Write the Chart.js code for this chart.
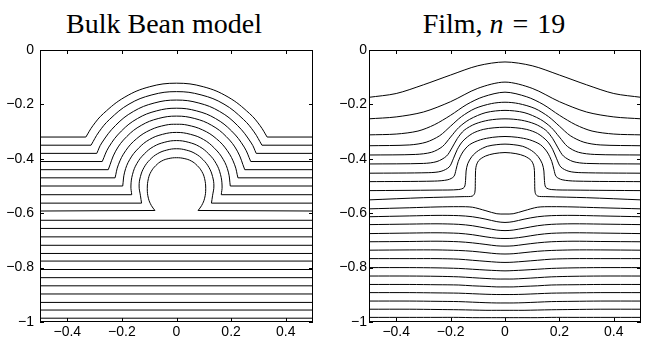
<!DOCTYPE html>
<html>
<head>
<meta charset="utf-8">
<script src="https://cdn.jsdelivr.net/npm/chart.js@4.4.0/dist/chart.umd.min.js"></script>
<style>
body{margin:0;background:#fff;width:651px;height:338px;overflow:hidden;position:relative}
.ttl{position:absolute;top:10px;width:328px;text-align:center;font-family:"Liberation Serif",serif;font-size:28px;line-height:28px;color:#000;white-space:nowrap}
canvas{position:absolute;top:0}
</style>
</head>
<body>
<div class="ttl" style="left:0">Bulk Bean model</div>
<div class="ttl" style="left:330px">Film, <i>n</i>&nbsp;<span style="margin:0 2px">=</span>&nbsp;19</div>
<canvas id="bulk" width="325" height="338" style="left:0"></canvas>
<canvas id="film" width="326" height="338" style="left:325px"></canvas>
<script>
// ticks
const xTicks = [-0.4, -0.2, 0, 0.2, 0.4];
const xTickLabels = ["\u22120.4", "\u22120.2", "0", "0.2", "0.4"];
const yTicks = [0, -0.2, -0.4, -0.6, -0.8, -1];
const yTickLabels = ["0", "\u22120.2", "\u22120.4", "\u22120.6", "\u22120.8", "\u22121"];

// bulk Bean model: straight lines under the hole
const bulkLevels = [-0.626, -0.656, -0.687, -0.718, -0.748, -0.776, -0.807, -0.837, -0.867, -0.897, -0.928, -0.956, -0.986];

// bulk Bean model: lines going round the hole (x, y); first and last segment are flat
const bulkArcs = [
  [[-0.5,-0.32],[-0.332,-0.32],[-0.306,-0.278],[-0.267,-0.233],[-0.189,-0.173],[-0.098,-0.135],[0,-0.122],[0.098,-0.135],[0.189,-0.173],[0.267,-0.233],[0.306,-0.278],[0.332,-0.32],[0.5,-0.32]],
  [[-0.5,-0.35],[-0.313,-0.35],[-0.284,-0.301],[-0.245,-0.255],[-0.174,-0.199],[-0.09,-0.165],[0,-0.153],[0.09,-0.165],[0.174,-0.199],[0.245,-0.255],[0.284,-0.301],[0.313,-0.35],[0.5,-0.35]],
  [[-0.5,-0.38],[-0.292,-0.38],[-0.274,-0.342],[-0.223,-0.277],[-0.158,-0.226],[-0.082,-0.195],[0,-0.184],[0.082,-0.195],[0.158,-0.226],[0.223,-0.277],[0.274,-0.342],[0.292,-0.38],[0.5,-0.38]],
  [[-0.5,-0.41],[-0.272,-0.41],[-0.248,-0.357],[-0.202,-0.298],[-0.143,-0.252],[-0.074,-0.224],[0,-0.214],[0.074,-0.224],[0.143,-0.252],[0.202,-0.298],[0.248,-0.357],[0.272,-0.41],[0.5,-0.41]],
  [[-0.5,-0.44],[-0.25,-0.44],[-0.223,-0.372],[-0.182,-0.318],[-0.129,-0.277],[-0.067,-0.252],[0,-0.243],[0.067,-0.252],[0.129,-0.277],[0.182,-0.318],[0.223,-0.372],[0.25,-0.44],[0.5,-0.44]],
  [[-0.5,-0.47],[-0.225,-0.47],[-0.213,-0.422],[-0.186,-0.37],[-0.146,-0.326],[-0.096,-0.294],[-0.039,-0.276],[0,-0.273],[0.039,-0.276],[0.096,-0.294],[0.146,-0.326],[0.186,-0.37],[0.213,-0.422],[0.225,-0.47],[0.5,-0.47]],
  [[-0.5,-0.5],[-0.197,-0.5],[-0.19,-0.449],[-0.171,-0.402],[-0.139,-0.361],[-0.099,-0.329],[-0.051,-0.31],[0,-0.303],[0.051,-0.31],[0.099,-0.329],[0.139,-0.361],[0.171,-0.402],[0.19,-0.449],[0.197,-0.5],[0.5,-0.5]],
  [[-0.5,-0.532],[-0.164,-0.532],[-0.167,-0.5],[-0.161,-0.457],[-0.145,-0.417],[-0.118,-0.382],[-0.084,-0.355],[-0.043,-0.339],[0,-0.333],[0.043,-0.339],[0.084,-0.355],[0.118,-0.382],[0.145,-0.417],[0.161,-0.457],[0.167,-0.5],[0.164,-0.532],[0.5,-0.532]],
  [[-0.5,-0.563],[-0.128,-0.563],[-0.132,-0.536],[-0.137,-0.5],[-0.132,-0.465],[-0.119,-0.432],[-0.097,-0.403],[-0.069,-0.381],[-0.036,-0.368],[0,-0.363],[0.036,-0.368],[0.069,-0.381],[0.097,-0.403],[0.119,-0.432],[0.132,-0.465],[0.137,-0.5],[0.132,-0.536],[0.128,-0.563],[0.5,-0.563]],
  [[-0.5,-0.592],[-0.079,-0.59],[-0.092,-0.572],[-0.103,-0.545],[-0.107,-0.51],[-0.103,-0.473],[-0.093,-0.447],[-0.076,-0.425],[-0.054,-0.408],[-0.028,-0.399],[0,-0.396],[0.028,-0.399],[0.054,-0.408],[0.076,-0.425],[0.093,-0.447],[0.103,-0.473],[0.107,-0.51],[0.103,-0.545],[0.092,-0.572],[0.079,-0.59],[0.5,-0.592]]
];

// film n = 19: lines passing over the hole (x, y)
const filmOver = [
  [[-0.5,-0.174],[-0.4,-0.16],[-0.3,-0.128],[-0.2,-0.092],[-0.1,-0.058],[0,-0.044],[0.1,-0.058],[0.2,-0.092],[0.3,-0.128],[0.4,-0.16],[0.5,-0.174]],
  [[-0.5,-0.253],[-0.4,-0.246],[-0.3,-0.228],[-0.2,-0.19],[-0.1,-0.141],[0,-0.118],[0.1,-0.141],[0.2,-0.19],[0.3,-0.228],[0.4,-0.246],[0.5,-0.253]],
  [[-0.5,-0.312],[-0.4,-0.309],[-0.32,-0.298],[-0.26,-0.275],[-0.2,-0.24],[-0.14,-0.2],[-0.08,-0.172],[0,-0.155],[0.08,-0.172],[0.14,-0.2],[0.2,-0.24],[0.26,-0.275],[0.32,-0.298],[0.4,-0.309],[0.5,-0.312]],
  [[-0.5,-0.352],[-0.35,-0.349],[-0.29,-0.339],[-0.24,-0.315],[-0.2,-0.28],[-0.16,-0.245],[-0.11,-0.215],[-0.05,-0.197],[0,-0.192],[0.05,-0.197],[0.11,-0.215],[0.16,-0.245],[0.2,-0.28],[0.24,-0.315],[0.29,-0.339],[0.35,-0.349],[0.5,-0.352]],
  [[-0.5,-0.386],[-0.33,-0.384],[-0.27,-0.376],[-0.23,-0.355],[-0.2,-0.32],[-0.17,-0.285],[-0.13,-0.255],[-0.07,-0.23],[0,-0.222],[0.07,-0.23],[0.13,-0.255],[0.17,-0.285],[0.2,-0.32],[0.23,-0.355],[0.27,-0.376],[0.33,-0.384],[0.5,-0.386]],
  [[-0.5,-0.419],[-0.3,-0.417],[-0.25,-0.41],[-0.215,-0.39],[-0.195,-0.36],[-0.175,-0.325],[-0.15,-0.295],[-0.11,-0.272],[-0.06,-0.258],[0,-0.253],[0.06,-0.258],[0.11,-0.272],[0.15,-0.295],[0.175,-0.325],[0.195,-0.36],[0.215,-0.39],[0.25,-0.41],[0.3,-0.417],[0.5,-0.419]],
  [[-0.5,-0.453],[-0.28,-0.451],[-0.235,-0.446],[-0.205,-0.43],[-0.19,-0.4],[-0.175,-0.365],[-0.155,-0.335],[-0.12,-0.307],[-0.08,-0.292],[-0.04,-0.286],[0,-0.284],[0.04,-0.286],[0.08,-0.292],[0.12,-0.307],[0.155,-0.335],[0.175,-0.365],[0.19,-0.4],[0.205,-0.43],[0.235,-0.446],[0.28,-0.451],[0.5,-0.453]],
  [[-0.5,-0.484],[-0.26,-0.482],[-0.21,-0.477],[-0.188,-0.465],[-0.18,-0.44],[-0.172,-0.41],[-0.155,-0.375],[-0.13,-0.348],[-0.09,-0.33],[-0.045,-0.321],[0,-0.318],[0.045,-0.321],[0.09,-0.33],[0.13,-0.348],[0.155,-0.375],[0.172,-0.41],[0.18,-0.44],[0.188,-0.465],[0.21,-0.477],[0.26,-0.482],[0.5,-0.484]],
  [[-0.5,-0.517],[-0.25,-0.515],[-0.17,-0.513],[-0.15,-0.505],[-0.145,-0.48],[-0.143,-0.445],[-0.137,-0.418],[-0.122,-0.392],[-0.098,-0.37],[-0.065,-0.354],[-0.03,-0.348],[0,-0.346],[0.03,-0.348],[0.065,-0.354],[0.098,-0.37],[0.122,-0.392],[0.137,-0.418],[0.143,-0.445],[0.145,-0.48],[0.15,-0.505],[0.17,-0.513],[0.25,-0.515],[0.5,-0.517]],
  [[-0.5,-0.551],[-0.3,-0.543],[-0.15,-0.539],[-0.12,-0.537],[-0.111,-0.525],[-0.109,-0.48],[-0.107,-0.432],[-0.097,-0.407],[-0.072,-0.39],[-0.04,-0.381],[0,-0.377],[0.04,-0.381],[0.072,-0.39],[0.097,-0.407],[0.107,-0.432],[0.109,-0.48],[0.111,-0.525],[0.12,-0.537],[0.15,-0.539],[0.3,-0.543],[0.5,-0.551]]
];

// film n = 19: lines dipping under the hole
const filmUnderX = [-0.5, -0.35, -0.25, -0.17, -0.12, -0.07, -0.03, 0, 0.03, 0.07, 0.12, 0.17, 0.25, 0.35, 0.5];
const filmUnder = [
  [-0.584,-0.58,-0.577,-0.576,-0.578,-0.591,-0.602,-0.603,-0.602,-0.591,-0.578,-0.576,-0.577,-0.58,-0.584],
  [-0.613,-0.61,-0.608,-0.609,-0.613,-0.622,-0.631,-0.634,-0.631,-0.622,-0.613,-0.609,-0.608,-0.61,-0.613],
  [-0.642,-0.64,-0.639,-0.641,-0.646,-0.655,-0.662,-0.664,-0.662,-0.655,-0.646,-0.641,-0.639,-0.64,-0.642],
  [-0.675,-0.673,-0.672,-0.674,-0.679,-0.687,-0.692,-0.693,-0.692,-0.687,-0.679,-0.674,-0.672,-0.673,-0.675],
  [-0.705,-0.704,-0.703,-0.705,-0.709,-0.715,-0.72,-0.721,-0.72,-0.715,-0.709,-0.705,-0.703,-0.704,-0.705],
  [-0.736,-0.735,-0.735,-0.737,-0.74,-0.745,-0.749,-0.75,-0.749,-0.745,-0.74,-0.737,-0.735,-0.735,-0.736],
  [-0.767,-0.767,-0.767,-0.769,-0.773,-0.777,-0.78,-0.781,-0.78,-0.777,-0.773,-0.769,-0.767,-0.767,-0.767],
  [-0.8,-0.8,-0.801,-0.803,-0.806,-0.809,-0.811,-0.812,-0.811,-0.809,-0.806,-0.803,-0.801,-0.8,-0.8],
  [-0.831,-0.831,-0.832,-0.834,-0.837,-0.84,-0.842,-0.842,-0.842,-0.84,-0.837,-0.834,-0.832,-0.831,-0.831],
  [-0.862,-0.862,-0.863,-0.864,-0.867,-0.869,-0.871,-0.871,-0.871,-0.869,-0.867,-0.864,-0.863,-0.862,-0.862],
  [-0.892,-0.892,-0.893,-0.894,-0.896,-0.898,-0.899,-0.899,-0.899,-0.898,-0.896,-0.894,-0.893,-0.892,-0.892],
  [-0.923,-0.923,-0.924,-0.925,-0.927,-0.929,-0.93,-0.93,-0.93,-0.929,-0.927,-0.925,-0.924,-0.923,-0.923],
  [-0.953,-0.953,-0.954,-0.955,-0.956,-0.957,-0.957,-0.957,-0.957,-0.957,-0.956,-0.955,-0.954,-0.953,-0.953],
  [-0.983,-0.983,-0.983,-0.983,-0.984,-0.984,-0.984,-0.984,-0.984,-0.984,-0.984,-0.983,-0.983,-0.983,-0.983]
];

Chart.defaults.font.family = "'Liberation Sans', Arial, sans-serif";
Chart.defaults.font.size = 14;
Chart.defaults.color = "#000";

// box round the plot with small inward ticks, like the original
const marco = {
  id: "marco",
  afterDatasetsDraw(chart) {
    const { ctx, chartArea: a, scales } = chart;
    ctx.save();
    ctx.strokeStyle = "#000";
    ctx.lineWidth = 1;
    ctx.strokeRect(a.left + 0.5, a.top + 0.5, a.right - a.left - 1, a.bottom - a.top - 1);
    ctx.beginPath();
    xTicks.forEach(v => {
      const px = Math.round(scales.x.getPixelForValue(v)) + 0.5;
      ctx.moveTo(px, a.top); ctx.lineTo(px, a.top + 4);
      ctx.moveTo(px, a.bottom); ctx.lineTo(px, a.bottom - 4);
    });
    yTicks.forEach(v => {
      const py = Math.round(scales.y.getPixelForValue(v)) + 0.5;
      ctx.moveTo(a.left, py); ctx.lineTo(a.left + 4, py);
      ctx.moveTo(a.right, py); ctx.lineTo(a.right - 4, py);
    });
    ctx.stroke();
    ctx.restore();
  }
};

function linea(puntos, tension) {
  return {
    data: puntos.map(p => ({ x: p[0], y: p[1] })),
    showLine: true,
    borderColor: "#000",
    borderWidth: 1,
    pointRadius: 0,
    tension: tension
  };
}

function opciones(anchoY, padY, derecha) {
  return {
    responsive: false,
    animation: false,
    layout: { padding: { left: 0, right: derecha, top: 50, bottom: 0 } },
    plugins: { legend: { display: false }, tooltip: { enabled: false } },
    scales: {
      x: {
        type: "linear", min: -0.5, max: 0.5,
        grid: { display: false, drawTicks: false },
        border: { display: false },
        afterBuildTicks: s => { s.ticks = xTicks.map(v => ({ value: v })); },
        afterFit: s => { s.height = 16; },
        ticks: { padding: 2, maxRotation: 0, autoSkip: false, callback: (v, i) => xTickLabels[i] }
      },
      y: {
        type: "linear", min: -1, max: 0,
        grid: { display: false, drawTicks: false },
        border: { display: false },
        afterBuildTicks: s => { s.ticks = yTicks.map(v => ({ value: v })); },
        afterFit: s => { s.width = anchoY; },
        ticks: { padding: padY, autoSkip: false, callback: (v, i) => yTickLabels[i] }
      }
    }
  };
}

// left chart: flat ends straight, the round part smooth
const bulkSets = [];
bulkArcs.forEach(arc => {
  const n = arc.length;
  bulkSets.push(linea(arc.slice(0, 2), 0));
  bulkSets.push(linea(arc.slice(1, n - 1), 0.4));
  bulkSets.push(linea(arc.slice(n - 2), 0));
});
bulkLevels.forEach(l => bulkSets.push(linea([[-0.5, l], [0.5, l]], 0)));
new Chart(document.getElementById("bulk"), {
  type: "scatter",
  data: { datasets: bulkSets },
  options: opciones(40, 6, 12),
  plugins: [marco]
});

// right chart
const filmSets = [];
filmOver.forEach(c => filmSets.push(linea(c, 0.3)));
filmUnder.forEach(ys => filmSets.push(linea(filmUnderX.map((x, i) => [x, ys[i]]), 0.3)));
new Chart(document.getElementById("film"), {
  type: "scatter",
  data: { datasets: filmSets },
  options: opciones(44, 2, 10),
  plugins: [marco]
});
</script>
</body>
</html>
